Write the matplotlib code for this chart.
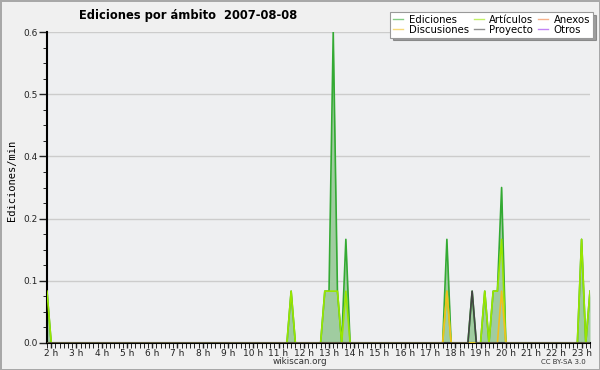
import matplotlib.pyplot as plt
import numpy as np

# ── Data: 10-minute bins, only the non-empty ones are listed ────────────────
bin_start = '01:50'
bin_end = '23:20'
times       = ['01:50', '11:30', '12:50', '13:00', '13:10', '13:20', '13:40',
               '17:40', '18:40', '19:10', '19:30', '19:40', '19:50', '23:00', '23:20']
ediciones   = [0.1, 0.1, 0.1, 0.1, 0.6, 0.1, 0.2, 0.2, 0.1, 0.1, 0.1, 0.1, 0.3, 0.2, 0.1]
articulos   = [0.1, 0.1, 0.1, 0.1, 0.1, 0.1, 0.1, 0.1, 0.0, 0.1, 0.1, 0.1, 0.2, 0.2, 0.1]
discusiones = [0.0, 0.0, 0.0, 0.0, 0.0, 0.0, 0.0, 0.1, 0.0, 0.0, 0.0, 0.0, 0.1, 0.0, 0.0]
proyecto    = [0.0, 0.0, 0.0, 0.0, 0.0, 0.0, 0.0, 0.0, 0.1, 0.0, 0.0, 0.0, 0.0, 0.0, 0.0]
anexos      = [0.0] * len(times)
otros       = [0.0] * len(times)

hour_labels = ['%d h' % h for h in range(2, 24)]
ytick_vals   = [0.0, 0.12, 0.24, 0.36, 0.48, 0.6]
ytick_labels = ['0.0', '0.1', '0.2', '0.4', '0.5', '0.6']

C_ED   = '#33aa33'
C_FILL = '#a0cca0'
C_ART  = '#99e600'
C_ANX  = '#f08040'
C_DIS  = '#f0c020'
C_PRO  = '#444444'
C_OTR  = '#9933ee'


def to_hours(s):
    h, m = s.split(':')
    return int(h) + int(m) / 60


# full time grid (bin positions) and the series spread onto it
t = np.arange(to_hours(bin_start), to_hours(bin_end) + 1e-6, 1 / 6)
idx = [int(round((to_hours(s) - t[0]) * 6)) for s in times]


def spread(vals):
    out = np.zeros(len(t))
    out[idx] = vals
    return out


fig = plt.figure(figsize=(6, 3.7), dpi=100)
fig.patch.set_facecolor('#f0f0f0')
fig.patch.set_edgecolor('#a8a8a8')
fig.patch.set_linewidth(2)
ax = fig.add_axes([47 / 600, 1 - 343 / 370, 543 / 600, 311 / 370])
ax.set_facecolor('#eeeff1')

ed = spread(ediciones)
ax.fill_between(t, ed, color=C_FILL, lw=0, zorder=1)
ax.plot(t, ed, color=C_ED, lw=1.2, zorder=2)
ax.plot(t, spread(anexos), color=C_ANX, lw=1.2, zorder=2)
ax.plot(t, spread(otros), color=C_OTR, lw=1.2, zorder=2)
ax.plot(t, spread(articulos), color=C_ART, lw=1.2, zorder=3)
ax.plot(t, spread(discusiones), color=C_DIS, lw=1.2, zorder=3)
ax.plot(t, spread(proyecto), color=C_PRO, lw=1.2, zorder=3)

ax.set_xlim(t[0], t[-1])
ax.set_ylim(0, 0.6)
ax.set_yticks(ytick_vals)
ax.set_yticklabels(ytick_labels)
ax.set_yticks(np.arange(0, 0.6001, 0.03), minor=True)
ax.set_xticks(range(2, 24))
ax.set_xticklabels(hour_labels)
ax.set_xticks(t, minor=True)
ax.tick_params(axis='both', labelsize=6.5, colors='#222222', width=1)
ax.tick_params(axis='y', which='major', length=6, pad=1)
ax.tick_params(axis='y', which='minor', length=3)
ax.tick_params(axis='x', which='both', length=3.5, pad=0.5)
ax.grid(axis='y', color='#cccccc', lw=1)
ax.set_axisbelow(True)
for side in ['top', 'right']:
    ax.spines[side].set_visible(False)
for side in ['left', 'bottom']:
    ax.spines[side].set_linewidth(1.5)

fig.text(12 / 600, 1 - 180 / 370, 'Ediciones/min', rotation=90, ha='center',
         va='center', fontsize=7.5, family='DejaVu Sans Mono')
fig.text(188 / 600, 1 - 15 / 370, 'Ediciones por ámbito  2007-08-08',
         ha='center', va='center', fontsize=8.3, fontweight='bold')
fig.text(300 / 600, 1 - 361 / 370, 'wikiscan.org', ha='center', va='center',
         fontsize=6.3, color='#333333')
fig.text(563 / 600, 1 - 362 / 370, 'CC BY-SA 3.0', ha='center', va='center',
         fontsize=5, color='#333333')

# legend, column order like the reference
handles = [plt.Line2D([], [], color=c, lw=1, alpha=0.6) for c in
           [C_ED, C_DIS, C_ART, C_PRO, C_ANX, C_OTR]]
labels = ['Ediciones', 'Discusiones', 'Artículos', 'Proyecto', 'Anexos', 'Otros']
leg = fig.legend(handles, labels, ncol=3, loc='upper right',
                 bbox_to_anchor=(593 / 600, 1 - 12 / 370), fontsize=7.3,
                 frameon=True, fancybox=False, shadow=True, edgecolor='#999999',
                 handlelength=1.0, handletextpad=0.5, columnspacing=0.5,
                 labelspacing=-0.05, borderpad=0.3, borderaxespad=0)
leg.get_frame().set_linewidth(0.8)

fig.savefig('out.png', dpi=100, facecolor=fig.get_facecolor(),
            edgecolor=fig.get_edgecolor())
